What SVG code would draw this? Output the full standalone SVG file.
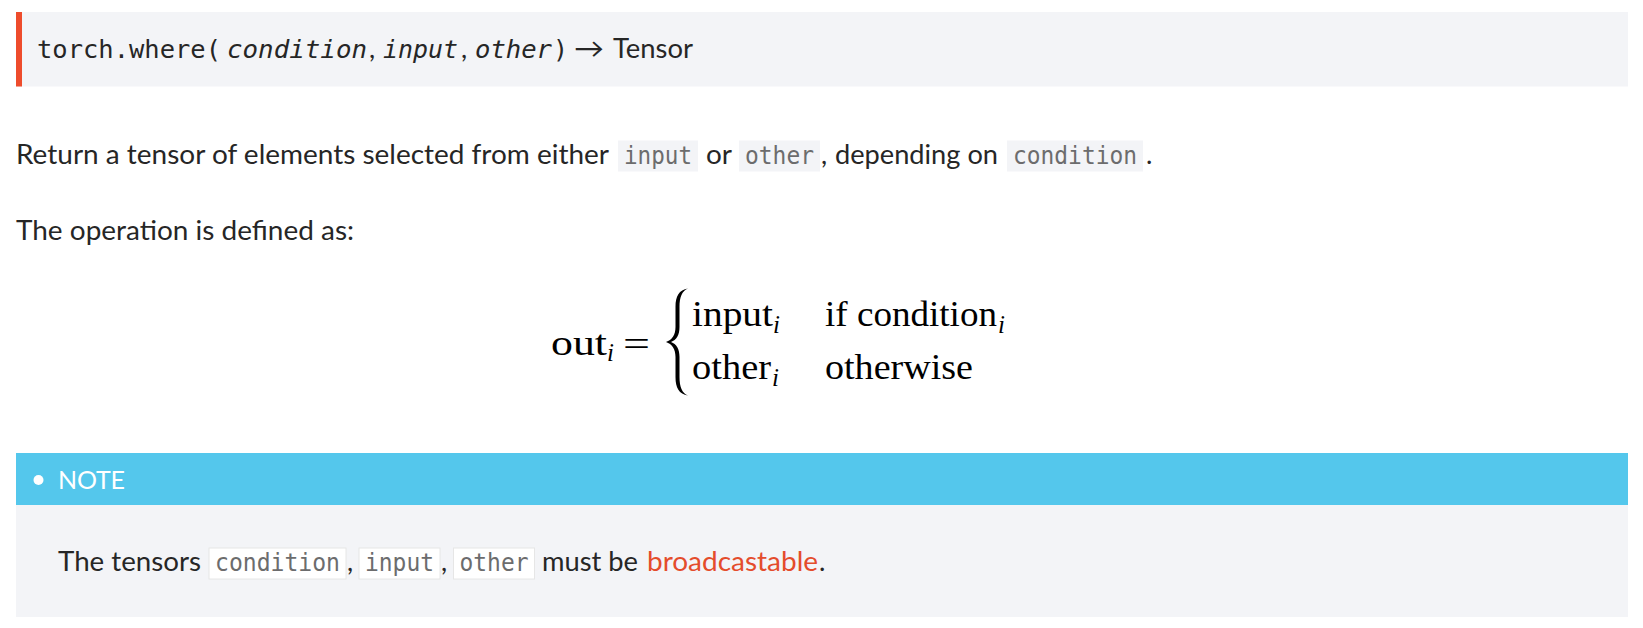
<svg xmlns="http://www.w3.org/2000/svg" width="1643" height="628" viewBox="0 0 1643 628">
<style>
.sans{font-family:Lato,"Open Sans","Liberation Sans",sans-serif;fill:#262626;font-size:27px}
.mono{font-family:"DejaVu Sans Mono","Liberation Mono",monospace;fill:#262626;font-size:25px}
.monoi{font-family:"DejaVu Sans Mono","Liberation Mono",monospace;fill:#262626;font-size:25px;font-style:italic}
.code{font-family:"DejaVu Sans Mono","Liberation Mono",monospace;fill:#6c6c6d;font-size:24px}
.codebg{fill:#f3f4f7}
.codebgw{fill:#ffffff;stroke:#e6e6e6;stroke-width:1}
.math{font-family:"Liberation Serif","DejaVu Serif",serif;fill:#000000;font-size:36px}
.mathi{font-family:"Liberation Serif","DejaVu Serif",serif;fill:#000000;font-size:25px;font-style:italic}
.link{fill:#e44c2c}
</style>
<rect x="0" y="0" width="1643" height="628" fill="#ffffff"/>

<g id="signature">
<rect x="16" y="12" width="1612" height="74.5" fill="#f3f4f7"/>
<rect x="16" y="12" width="6" height="74.5" fill="#ee4c2c"/>
<text class="mono" x="37" y="57.5" textLength="184" lengthAdjust="spacingAndGlyphs">torch.where(</text>
<text class="monoi" x="227" y="57.5" textLength="140" lengthAdjust="spacingAndGlyphs">condition</text>
<text class="sans" x="369" y="57.5">,</text>
<text class="monoi" x="383" y="57.5" textLength="75" lengthAdjust="spacingAndGlyphs">input</text>
<text class="sans" x="461" y="57.5">,</text>
<text class="monoi" x="475" y="57.5" textLength="77" lengthAdjust="spacingAndGlyphs">other</text>
<text class="mono" x="553" y="57.5">)</text>
<text class="sans" x="574" y="57.5" textLength="30" lengthAdjust="spacingAndGlyphs">→</text>
<text class="sans" x="613" y="57.5" textLength="80" lengthAdjust="spacingAndGlyphs">Tensor</text>
</g>

<g id="description">
<text class="sans" x="16" y="163.5" textLength="593" lengthAdjust="spacingAndGlyphs">Return a tensor of elements selected from either</text>
<rect class="codebg" x="618" y="140.5" width="80" height="31"/>
<text class="code" x="624" y="163.5" textLength="68" lengthAdjust="spacingAndGlyphs">input</text>
<text class="sans" x="706" y="163.5" textLength="26" lengthAdjust="spacingAndGlyphs">or</text>
<rect class="codebg" x="739" y="140.5" width="81" height="31"/>
<text class="code" x="745" y="163.5" textLength="69" lengthAdjust="spacingAndGlyphs">other</text>
<text class="sans" x="821" y="163.5">,</text>
<text class="sans" x="835" y="163.5" textLength="163" lengthAdjust="spacingAndGlyphs">depending on</text>
<rect class="codebg" x="1007" y="140.5" width="136" height="31"/>
<text class="code" x="1013" y="163.5" textLength="124" lengthAdjust="spacingAndGlyphs">condition</text>
<text class="sans" x="1146" y="163.5">.</text>
<text class="sans" x="16" y="240" textLength="338" lengthAdjust="spacingAndGlyphs">The operation is defined as:</text>
</g>

<g id="formula">
<text class="math" x="551" y="355" textLength="56" lengthAdjust="spacingAndGlyphs">out</text>
<text class="mathi" x="607" y="361">i</text>
<text class="math" x="623" y="356" textLength="27" lengthAdjust="spacingAndGlyphs">=</text>
<path d="M 688 288.5 C 679 290 675.5 296 675.5 307 L 675.5 327 C 675.5 335 672 340 666 342 C 672 344 675.5 349 675.5 357 L 675.5 377 C 675.5 388 679 394 688 395.5 C 682 393 679.5 387 679.5 377 L 679.5 357 C 679.5 349 676.5 344 671 342 C 676.5 340 679.5 335 679.5 327 L 679.5 307 C 679.5 297 682 291 688 288.5 Z" fill="#000000"/>
<text class="math" x="692" y="326" textLength="81" lengthAdjust="spacingAndGlyphs">input</text>
<text class="mathi" x="773" y="333">i</text>
<text class="math" x="825" y="326" textLength="172" lengthAdjust="spacingAndGlyphs">if condition</text>
<text class="mathi" x="998" y="333">i</text>
<text class="math" x="692" y="379" textLength="79" lengthAdjust="spacingAndGlyphs">other</text>
<text class="mathi" x="772" y="386">i</text>
<text class="math" x="825" y="379" textLength="148" lengthAdjust="spacingAndGlyphs">otherwise</text>
</g>

<g id="note">
<rect x="16" y="453" width="1612" height="52" fill="#54c7ec"/>
<rect x="16" y="505" width="1612" height="112" fill="#f3f4f7"/>
<circle cx="38.5" cy="480" r="5" fill="#ffffff"/>
<text x="58" y="488.5" font-family="Lato,'Open Sans','Liberation Sans',sans-serif" font-size="25" fill="#ffffff" letter-spacing="2" textLength="69" lengthAdjust="spacing">NOTE</text>
<text class="sans" x="58" y="570.5" textLength="143" lengthAdjust="spacingAndGlyphs">The tensors</text>
<rect class="codebgw" x="209" y="548" width="137" height="31"/>
<text class="code" x="215" y="570.5" textLength="125" lengthAdjust="spacingAndGlyphs">condition</text>
<text class="sans" x="347" y="570.5">,</text>
<rect class="codebgw" x="359" y="548" width="81" height="31"/>
<text class="code" x="365" y="570.5" textLength="69" lengthAdjust="spacingAndGlyphs">input</text>
<text class="sans" x="441" y="570.5">,</text>
<rect class="codebgw" x="453.5" y="548" width="81" height="31"/>
<text class="code" x="459.5" y="570.5" textLength="69" lengthAdjust="spacingAndGlyphs">other</text>
<text class="sans" x="542" y="570.5" textLength="96" lengthAdjust="spacingAndGlyphs">must be</text>
<text class="sans link" x="647" y="570.5" textLength="171" lengthAdjust="spacingAndGlyphs">broadcastable</text>
<text class="sans" x="819" y="570.5">.</text>
</g>
</svg>
